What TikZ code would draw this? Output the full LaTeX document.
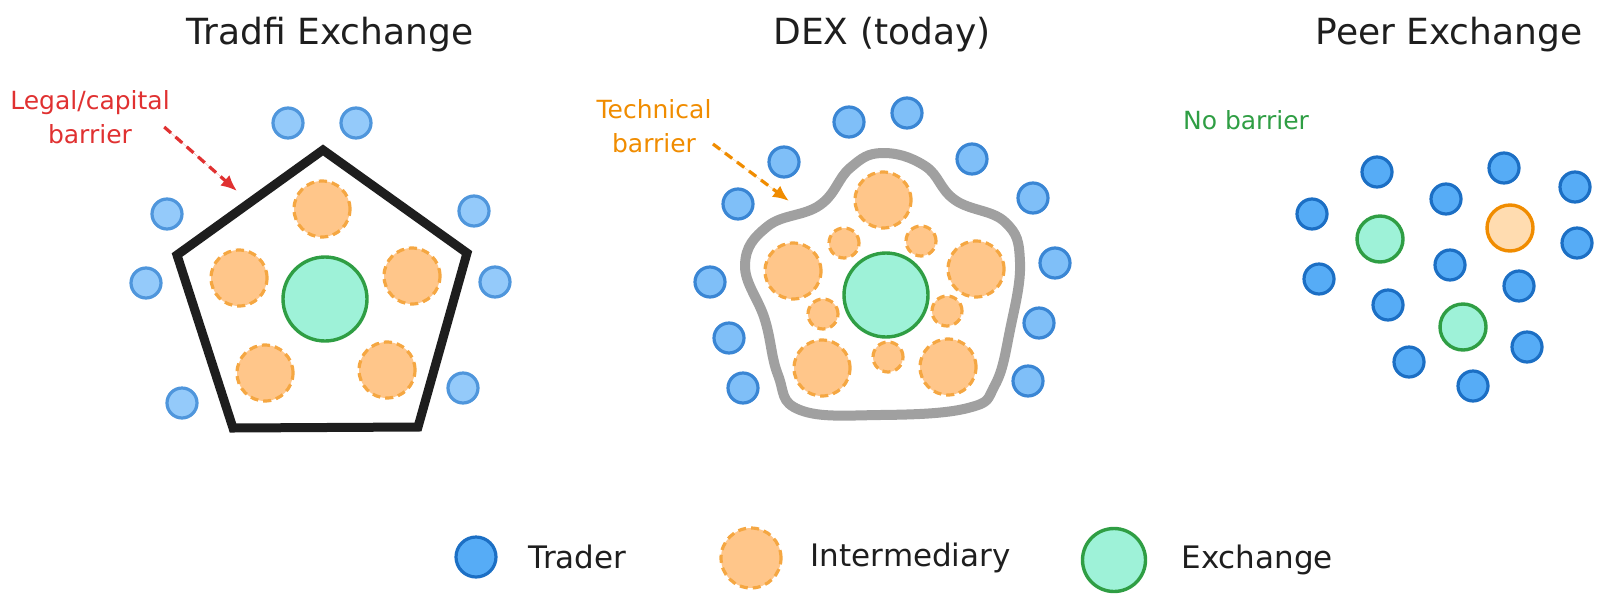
\documentclass[tikz,border=0pt]{standalone}
\usepackage{fontspec}
\setmainfont{DejaVu Sans}
\usepackage{xcolor}
\usetikzlibrary{arrows.meta,positioning}
\definecolor{Ink}{HTML}{1E1E1E}
\definecolor{WallGray}{HTML}{A0A0A0}
\definecolor{TfFill}{HTML}{94CAFA}
\definecolor{TfLine}{HTML}{4F96DC}
\definecolor{DxFill}{HTML}{7FBFF8}
\definecolor{DxLine}{HTML}{3A86D4}
\definecolor{PrFill}{HTML}{56ACF6}
\definecolor{PrLine}{HTML}{1C6FC4}
\definecolor{ImFill}{HTML}{FFC68A}
\definecolor{ImDash}{HTML}{F5A742}
\definecolor{ImPeer}{HTML}{FFDCB0}
\definecolor{Orange}{HTML}{F08C00}
\definecolor{ExFill}{HTML}{9EF2D8}
\definecolor{ExLine}{HTML}{2F9E44}
\definecolor{NoteRed}{HTML}{E03131}

\begin{document}
\begin{tikzpicture}[x=1pt, y=-1pt,
  trd/.style={circle, inner sep=0pt, minimum size=30pt, line width=3.2pt},
  imd/.style={circle, inner sep=0pt, minimum size=56pt, line width=3.2pt,
              fill=ImFill, draw=ImDash, dash pattern=on 8pt off 5pt},
  exch/.style={circle, inner sep=0pt, minimum size=84pt, line width=3.4pt,
               fill=ExFill, draw=ExLine},
  ttl/.style={font=\fontsize{36}{42}\selectfont, text=Ink},
  note/.style={font=\fontsize{25}{34}\selectfont, align=center},
  lgd/.style={font=\fontsize{31}{34}\selectfont, text=Ink, inner sep=0pt},
  hint/.style={line width=3.2pt, dash pattern=on 9pt off 6pt,
               -{Latex[length=16pt,width=14pt]}},
  node distance=31pt
]
  \useasboundingbox (0,0) rectangle (1600,600);

  % titles
  \node[ttl] (tradfi) at (330,35)  {Tradfi Exchange};
  \node[ttl] (dex)    at (882,35)  {DEX (today)};
  \node[ttl] (peer)   at (1449,35) {Peer Exchange};

  % tradfi: walled exchange
  \draw[line width=9pt, draw=Ink, line join=miter]
    (323,150) -- (467,253) -- (418,427) -- (233,428) -- (177,255) -- cycle;
  \foreach \x/\y [count=\i] in {288/123,356/123,167/214,474/211,146/283,495/282,182/403,463/388}
    \node[trd, fill=TfFill, draw=TfLine] (tt\i) at (\x,\y) {};
  \foreach \x/\y [count=\i] in {322/209,239/278,412/276,265/373,387/370}
    \node[imd] (ti\i) at (\x,\y) {};
  \node[exch] (tx) at (325,299) {};
  \node[note, text=NoteRed] (legal) at (90,117) {Legal/capital\\barrier};
  \coordinate (legalTip) at (237,191);
  \draw[hint, draw=NoteRed, fill=NoteRed] ([shift={(-9,10)}]legal.east) -- (legalTip);

  % dex: technical barrier
  \draw[line width=10pt, draw=WallGray] plot[smooth cycle, tension=0.7] coordinates {
    (882,153) (925,166) (955,200) (1005,222) (1020,262) (1010,330) (995,385)
    (968,408) (880,415) (800,410) (778,375) (765,320) (745,265) (768,226)
    (820,205) (850,168)};
  \foreach \x/\y [count=\i] in {849/122,907/113,972/159,1033/198,1055/263,1039/323,
                               1028/381,784/162,738/204,710/282,729/338,743/388}
    \node[trd, fill=DxFill, draw=DxLine] (dt\i) at (\x,\y) {};
  \foreach \x/\y [count=\i] in {883/200,793/271,976/269,822/368,948/367}
    \node[imd] (di\i) at (\x,\y) {};
  \foreach \x/\y [count=\i] in {844/243,921/241,823/314,947/311,888/357}
    \node[imd, minimum size=30pt] (ds\i) at (\x,\y) {};
  \node[exch] (dx) at (886,295) {};
  \node[note, text=Orange] (tech) at (654,126) {Technical\\barrier};
  \coordinate (techTip) at (789,201);
  \draw[hint, draw=Orange, fill=Orange] ([shift={(-2,18)}]tech.east) -- (techTip);

  % peer exchange: no barrier
  \node[note, text=ExLine] (open) at (1246,120) {No barrier};
  \foreach \x/\y [count=\i] in {1377/172,1504/168,1575/187,1446/199,1312/214,1577/243,1450/265,
                               1319/279,1519/286,1388/305,1527/347,1409/362,1473/386}
    \node[trd, fill=PrFill, draw=PrLine] (pt\i) at (\x,\y) {};
  \node[exch, minimum size=46pt] (px1) at (1380,239) {};
  \node[exch, minimum size=46pt] (px2) at (1463,327) {};
  \node[circle, inner sep=0pt, minimum size=46pt, line width=3.4pt, fill=ImPeer, draw=Orange]
    (pi) at (1510,228) {};

  % legend
  \node[trd, minimum size=40pt, fill=PrFill, draw=PrLine] (keyT) at (476,557) {};
  \node[lgd, right=of keyT] (keyTtxt) {Trader};
  \node[imd, minimum size=60pt] (keyI) at (751,558) {};
  \node[lgd, right=28pt of keyI] (keyItxt) {Intermediary};
  \node[exch, minimum size=63pt] (keyX) at (1114,560) {};
  \node[lgd, right=34pt of keyX] (keyXtxt) {Exchange};
\end{tikzpicture}
\end{document}
